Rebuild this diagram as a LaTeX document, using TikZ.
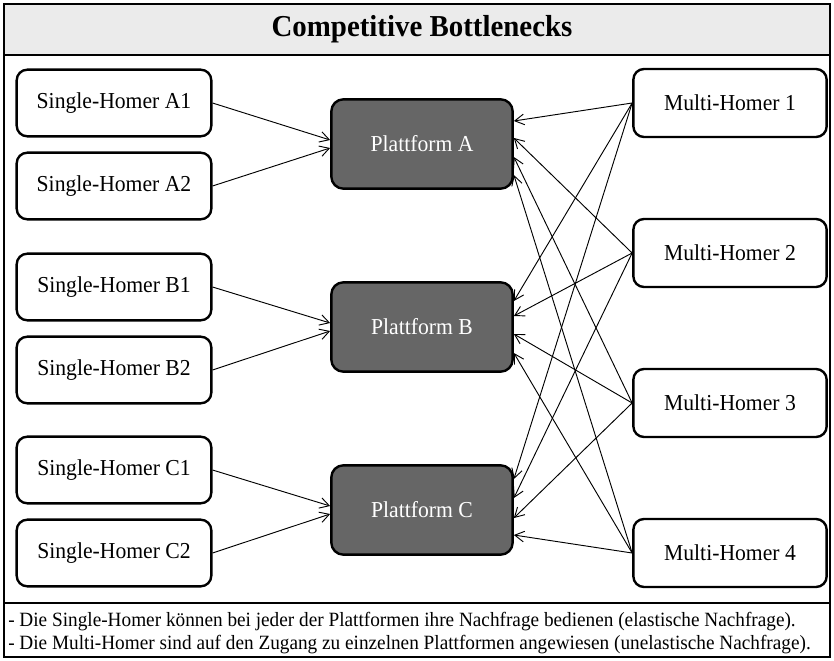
\documentclass[tikz,border=0pt]{standalone}
\usepackage{fontspec}
\setmainfont[FakeStretch=0.95]{Liberation Serif}
\usetikzlibrary{arrows.meta,calc}

\tikzset{
  homer/.style={draw, line width=1.8pt, rounded corners=8pt, fill=white,
    minimum width=146pt, minimum height=50pt, inner sep=0pt,
    font=\fontsize{17.1}{20}\selectfont},
  multi/.style={homer, minimum width=145pt, minimum height=51pt},
  platform/.style={draw, line width=1.8pt, rounded corners=9pt, fill=black!60,
    text=white, minimum width=136pt, minimum height=67pt, inner sep=0pt,
    font=\fontsize{17.1}{20}\selectfont},
  link/.style={line width=0.7pt, -{Straight Barb[length=7pt,width=8pt]}},
  note/.style={anchor=base west, inner sep=0pt, font=\fontsize{15.2}{18}\selectfont},
}

\begin{document}
\begin{tikzpicture}[x=0.75pt,y=-0.75pt]
  \useasboundingbox (0,0) rectangle (834,660);

  % frame, title band and footnote separator
  \fill[black!8] (4,4) rectangle (830,55);
  \draw[line width=1.6pt] (4,4) rectangle (830,657);
  \draw[line width=1.6pt] (4,55) -- (830,55);
  \draw[line width=1.6pt] (4,603) -- (830,603);
  \node[font=\fontsize{22.8}{26}\selectfont\bfseries] (title) at (422,29) {Competitive Bottlenecks};

  % single-homers
  \node[homer] (a1) at (114,103) {Single-Homer A1};
  \node[homer] (a2) at (114,186) {Single-Homer A2};
  \node[homer] (b1) at (114,287) {Single-Homer B1};
  \node[homer] (b2) at (114,370) {Single-Homer B2};
  \node[homer] (c1) at (114,470) {Single-Homer C1};
  \node[homer] (c2) at (114,553) {Single-Homer C2};

  % platforms
  \node[platform] (pA) at (422,144) {Plattform A};
  \node[platform] (pB) at (422,327) {Plattform B};
  \node[platform] (pC) at (422,510) {Plattform C};

  % multi-homers
  \node[multi] (m1) at (730,103) {Multi-Homer 1};
  \node[multi] (m2) at (730,253) {Multi-Homer 2};
  \node[multi] (m3) at (730,403) {Multi-Homer 3};
  \node[multi] (m4) at (730,553) {Multi-Homer 4};

  % single-homers serve one platform each
  \draw[link] (a1.east) -- ($(pA.west)+(0,-4)$);
  \draw[link] (a2.east) -- ($(pA.west)+(0,4)$);
  \draw[link] (b1.east) -- ($(pB.west)+(0,-4)$);
  \draw[link] (b2.east) -- ($(pB.west)+(0,4)$);
  \draw[link] (c1.east) -- ($(pC.west)+(0,-4)$);
  \draw[link] (c2.east) -- ($(pC.west)+(0,4)$);

  % multi-homers reach every platform
  \draw[link] (m1.west) -- ($(pA.east)+(0,-23)$);
  \draw[link] (m2.west) -- ($(pA.east)+(0,-6)$);
  \draw[link] (m3.west) -- ($(pA.east)+(0,13)$);
  \draw[link] (m4.west) -- ($(pA.east)+(0,31)$);

  \draw[link] (m1.west) -- ($(pB.east)+(0,-26)$);
  \draw[link] (m2.west) -- ($(pB.east)+(0,-11)$);
  \draw[link] (m3.west) -- ($(pB.east)+(0,7)$);
  \draw[link] (m4.west) -- ($(pB.east)+(0,26)$);

  \draw[link] (m1.west) -- ($(pC.east)+(0,-31)$);
  \draw[link] (m2.west) -- ($(pC.east)+(0,-12)$);
  \draw[link] (m3.west) -- ($(pC.east)+(0,8)$);
  \draw[link] (m4.west) -- ($(pC.east)+(0,25)$);

  % footnote
  \node[note] (note1) at (8,626)
    {- Die Single-Homer können bei jeder der Plattformen ihre Nachfrage bedienen (elastische Nachfrage).};
  \node[note] (note2) at (8,649)
    {- Die Multi-Homer sind auf den Zugang zu einzelnen Plattformen angewiesen (unelastische Nachfrage).};
\end{tikzpicture}
\end{document}
